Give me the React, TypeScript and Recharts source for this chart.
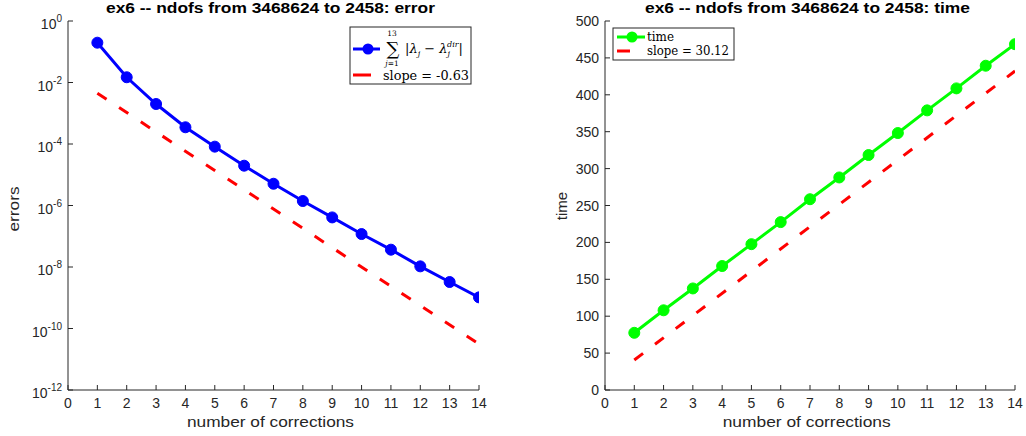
import React from 'react';
import { LineChart, Line, XAxis, YAxis } from 'recharts';

// values
const corrections = [1, 2, 3, 4, 5, 6, 7, 8, 9, 10, 11, 12, 13, 14];
const errorValues = [
  0.197, 0.0148, 0.002, 3.5e-4, 8.2e-5, 1.97e-5, 5.1e-6, 1.4e-6, 4.1e-7, 1.18e-7, 3.66e-8, 1.05e-8,
  3.25e-9, 1.03e-9,
];
const timeValues = [77.5, 108, 137.6, 168, 197.6, 227.5, 258.5, 288, 318.4, 348.2, 378.9, 408.7, 439.4, 468.6];
// the fitted slope lines, only their end points
const slopeX = [1, 14];
const errorSlopeValues = [4.46e-3, 3.1e-11];
const timeSlopeValues = [40.6, 432.2];

const xTicks = [0, 1, 2, 3, 4, 5, 6, 7, 8, 9, 10, 11, 12, 13, 14];
const errorTicks = [1e-12, 1e-10, 1e-8, 1e-6, 1e-4, 1e-2, 1];
const timeTicks = [0, 50, 100, 150, 200, 250, 300, 350, 400, 450, 500];

const errorData = corrections.map((x, i) => ({ x, y: errorValues[i] }));
const errorSlope = slopeX.map((x, i) => ({ x, y: errorSlopeValues[i] }));
const timeData = corrections.map((x, i) => ({ x, y: timeValues[i] }));
const timeSlope = slopeX.map((x, i) => ({ x, y: timeSlopeValues[i] }));

const AX = '#262626';
const TL = 5;
const SANS = '"Liberation Sans", Arial, Helvetica, sans-serif';
const SERIF = '"DejaVu Serif", "Liberation Serif", serif';

function BottomTick(props: any) {
  const { x, y, payload } = props;
  const axisY = y - 6;
  return (
    <g>
      <line x1={x} x2={x} y1={axisY} y2={axisY - TL} stroke={AX} />
      <text x={x} y={y + 12} textAnchor="middle" fontSize={14} fill={AX} fontFamily={SANS}>
        {payload.value}
      </text>
    </g>
  );
}

function TopTick(props: any) {
  const { x, y } = props;
  return <line x1={x} x2={x} y1={y} y2={y + TL} stroke={AX} />;
}

function RightTick(props: any) {
  const { x, y } = props;
  return <line x1={x} x2={x - TL} y1={y} y2={y} stroke={AX} />;
}

function LinearTick(props: any) {
  const { x, y, payload } = props;
  const axisX = x + 6;
  return (
    <g>
      <line x1={axisX} x2={axisX + TL} y1={y} y2={y} stroke={AX} />
      <text x={x} y={y + 5} textAnchor="end" fontSize={14} fill={AX} fontFamily={SANS}>
        {payload.value}
      </text>
    </g>
  );
}

function LogTick(props: any) {
  const { x, y, payload } = props;
  const axisX = x + 6;
  const exp = Math.round(Math.log10(payload.value));
  return (
    <g>
      <line x1={axisX} x2={axisX + TL} y1={y} y2={y} stroke={AX} />
      <text x={x} y={y + 8} textAnchor="end" fontSize={14} fill={AX} fontFamily={SANS}>
        10
        <tspan dy={-7} fontSize={10}>
          {exp}
        </tspan>
      </text>
    </g>
  );
}

function Overlay() {
  return (
    <svg width={1026} height={436} style={{ position: 'absolute', left: 0, top: 0, pointerEvents: 'none' }}>
      {/* titles */}
      <text x={270.5} y={12.5} textAnchor="middle" fontSize={14} fontWeight="bold" fill="#000" fontFamily={SANS} textLength={329} lengthAdjust="spacingAndGlyphs">
        ex6 -- ndofs from 3468624 to 2458: error
      </text>
      <text x={807.5} y={12.5} textAnchor="middle" fontSize={14} fontWeight="bold" fill="#000" fontFamily={SANS} textLength={325} lengthAdjust="spacingAndGlyphs">
        ex6 -- ndofs from 3468624 to 2458: time
      </text>

      {/* axis labels */}
      <text x={270.5} y={427} textAnchor="middle" fontSize={15} fill={AX} fontFamily={SANS} textLength={167} lengthAdjust="spacingAndGlyphs">
        number of corrections
      </text>
      <text x={806.7} y={427} textAnchor="middle" fontSize={15} fill={AX} fontFamily={SANS} textLength={168} lengthAdjust="spacingAndGlyphs">
        number of corrections
      </text>
      <text transform="translate(19,209) rotate(-90)" textAnchor="middle" fontSize={15} fill={AX} fontFamily={SANS} textLength={45} lengthAdjust="spacingAndGlyphs">
        errors
      </text>
      <text transform="translate(567,206) rotate(-90)" textAnchor="middle" fontSize={15} fill={AX} fontFamily={SANS}>
        time
      </text>

      {/* legend: error plot */}
      <rect x={350} y={27} width={121} height={57} fill="#fff" stroke={AX} strokeWidth={1} />
      <line x1={353} x2={380} y1={49} y2={49} stroke="#0000ff" strokeWidth={3} />
      <circle cx={368} cy={49} r={5.5} fill="#0000ff" />
      <text x={393} y={55} textAnchor="middle" fontSize={18} fill="#000" fontFamily={SERIF}>
        ∑
      </text>
      <text x={392} y={35.5} textAnchor="middle" fontSize={7.5} fill="#000" fontFamily={SERIF}>
        13
      </text>
      <text x={392} y={66} textAnchor="middle" fontSize={7.5} fill="#000" fontFamily={SERIF} fontStyle="italic">
        j<tspan fontStyle="normal">=1</tspan>
      </text>
      <text x={405} y={53} fontSize={13} fill="#000" fontFamily={SERIF}>
        |<tspan fontStyle="italic">λ</tspan>
        <tspan fontSize={8} dy={3} fontStyle="italic">j</tspan>
        <tspan dy={-3}> − </tspan>
        <tspan fontStyle="italic">λ</tspan>
        <tspan fontSize={8} dy={3} fontStyle="italic">j</tspan>
        <tspan fontSize={8} dy={-9} dx={-3} fontStyle="italic">dir</tspan>
        <tspan dy={6}>|</tspan>
      </text>
      <line x1={353} x2={371} y1={75} y2={75} stroke="#ff0000" strokeWidth={3} />
      <text x={383} y={80} fontSize={13} fill="#000" fontFamily={SERIF} textLength={86} lengthAdjust="spacingAndGlyphs">
        slope = -0.63
      </text>

      {/* legend: time plot */}
      <rect x={613} y={28} width={121} height={32} fill="#fff" stroke={AX} strokeWidth={1} />
      <line x1={617} x2={645} y1={37} y2={37} stroke="#00ff00" strokeWidth={3} />
      <circle cx={632} cy={37} r={5.5} fill="#00ff00" />
      <text x={647} y={41} fontSize={12.5} fill="#000" fontFamily={SERIF} textLength={27} lengthAdjust="spacingAndGlyphs">
        time
      </text>
      <line x1={617} x2={630} y1={51} y2={51} stroke="#ff0000" strokeWidth={3} />
      <text x={647} y={55} fontSize={12.5} fill="#000" fontFamily={SERIF} textLength={82} lengthAdjust="spacingAndGlyphs">
        slope = 30.12
      </text>
    </svg>
  );
}

export default function App() {
  return (
    <div style={{ position: 'fixed', left: 0, top: 0, width: 1026, height: 436, background: '#fff' }}>
      <div style={{ position: 'absolute', left: 0, top: 0 }}>
        <LineChart width={500} height={436} margin={{ top: 21, right: 21, bottom: 0, left: 0 }}>
          <XAxis xAxisId="b" dataKey="x" type="number" domain={[0, 14]} ticks={xTicks} height={46} tickSize={0} tickMargin={6} tick={<BottomTick />} stroke={AX} allowDataOverflow />
          <XAxis xAxisId="t" dataKey="x" orientation="top" type="number" domain={[0, 14]} ticks={xTicks} height={0} tickSize={0} tickMargin={0} tick={<TopTick />} stroke={AX} allowDataOverflow />
          <YAxis yAxisId="l" type="number" scale="log" domain={[1e-12, 1]} ticks={errorTicks} width={68} tickSize={0} tickMargin={6} tick={<LogTick />} stroke={AX} allowDataOverflow />
          <YAxis yAxisId="r" orientation="right" type="number" scale="log" domain={[1e-12, 1]} ticks={errorTicks} width={0} tickSize={0} tickMargin={0} tick={<RightTick />} stroke={AX} allowDataOverflow />
          <Line xAxisId="b" yAxisId="l" data={errorSlope} dataKey="y" stroke="#ff0000" strokeWidth={3} strokeDasharray="11 15" dot={false} isAnimationActive={false} />
          <Line xAxisId="b" yAxisId="l" data={errorData} dataKey="y" stroke="#0000ff" strokeWidth={3} dot={{ r: 5.5, fill: '#0000ff', stroke: '#0000ff', strokeWidth: 1 }} isAnimationActive={false} />
        </LineChart>
      </div>
      <div style={{ position: 'absolute', left: 500, top: 0 }}>
        <LineChart width={526} height={436} margin={{ top: 21, right: 11, bottom: 0, left: 0 }}>
          <XAxis xAxisId="b" dataKey="x" type="number" domain={[0, 14]} ticks={xTicks} height={46} tickSize={0} tickMargin={6} tick={<BottomTick />} stroke={AX} allowDataOverflow />
          <XAxis xAxisId="t" dataKey="x" orientation="top" type="number" domain={[0, 14]} ticks={xTicks} height={0} tickSize={0} tickMargin={0} tick={<TopTick />} stroke={AX} allowDataOverflow />
          <YAxis yAxisId="l" type="number" domain={[0, 500]} ticks={timeTicks} width={105} tickSize={0} tickMargin={6} tick={<LinearTick />} stroke={AX} allowDataOverflow />
          <YAxis yAxisId="r" orientation="right" type="number" domain={[0, 500]} ticks={timeTicks} width={0} tickSize={0} tickMargin={0} tick={<RightTick />} stroke={AX} allowDataOverflow />
          <Line xAxisId="b" yAxisId="l" data={timeSlope} dataKey="y" stroke="#ff0000" strokeWidth={3} strokeDasharray="11 15" dot={false} isAnimationActive={false} />
          <Line xAxisId="b" yAxisId="l" data={timeData} dataKey="y" stroke="#00ff00" strokeWidth={3} dot={{ r: 5.5, fill: '#00ff00', stroke: '#00ff00', strokeWidth: 1 }} isAnimationActive={false} />
        </LineChart>
      </div>
      <Overlay />
    </div>
  );
}
